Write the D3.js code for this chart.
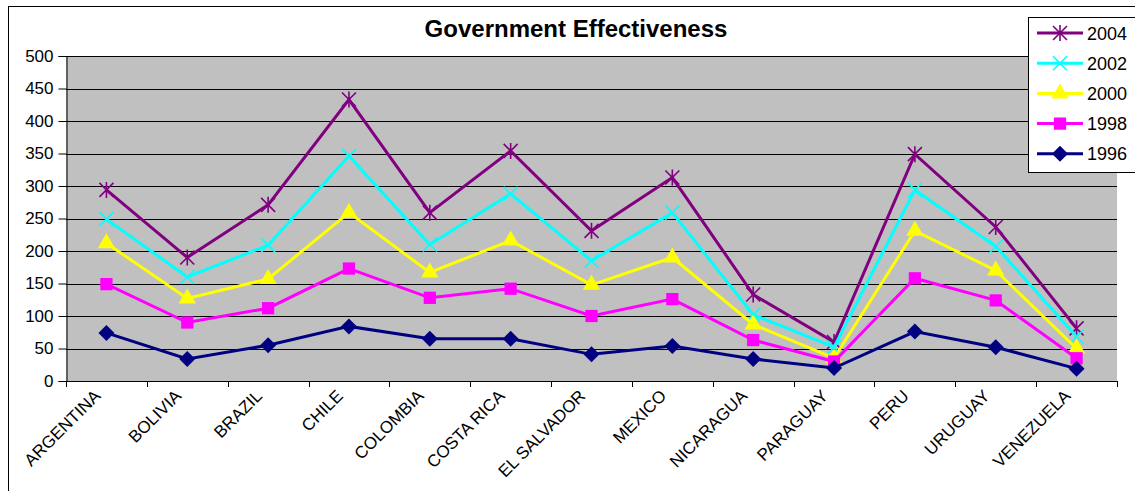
<!DOCTYPE html>
<html>
<head>
<meta charset="utf-8">
<script src="https://cdn.jsdelivr.net/npm/d3@7"></script>
<style>
  html, body { margin: 0; padding: 0; background: #fff; }
  svg { display: block; font-family: "Liberation Sans", Arial, sans-serif; }
</style>
</head>
<body>
<svg id="chart" width="1135" height="491"></svg>
<script>
const categories = ["ARGENTINA", "BOLIVIA", "BRAZIL", "CHILE", "COLOMBIA", "COSTA RICA",
  "EL SALVADOR", "MEXICO", "NICARAGUA", "PARAGUAY", "PERU", "URUGUAY", "VENEZUELA"];
const years = ["2004", "2002", "2000", "1998", "1996"];
const v2004 = [294, 190, 271, 433, 259, 354, 231, 313, 133, 60, 349, 237, 81];
const v2002 = [249, 160, 209, 346, 210, 288, 185, 259, 102, 52, 294, 207, 68];
const v2000 = [212, 127, 157, 259, 167, 216, 148, 190, 87, 35, 231, 170, 50];
const v1998 = [149, 90, 112, 173, 128, 142, 100, 126, 63, 30, 158, 124, 35];
const v1996 = [74, 34, 55, 84, 65, 65, 41, 54, 34, 20, 76, 52, 19];
const yTicks = [0, 50, 100, 150, 200, 250, 300, 350, 400, 450, 500];
const title = "Government Effectiveness";

const seriesValues = [v2004, v2002, v2000, v1998, v1996];
const colors = ["#800080", "#00FFFF", "#FFFF00", "#FF00FF", "#000080"];
const markers = ["star", "x", "triangle", "square", "diamond"];

const svg = d3.select("#chart");
const plot = { left: 66, right: 1117, top: 56, bottom: 381 };

// outer frame
svg.append("rect").attr("x", 8.5).attr("y", 6.5).attr("width", 1140).attr("height", 500)
  .attr("fill", "#fff").attr("stroke", "#000").attr("stroke-width", 1);

const x = d3.scaleBand().domain(categories).range([plot.left, plot.right]);
const y = d3.scaleLinear().domain([0, 500]).range([plot.bottom, plot.top]);

// plot background
svg.append("rect").attr("x", plot.left).attr("y", plot.top)
  .attr("width", plot.right - plot.left).attr("height", plot.bottom - plot.top)
  .attr("fill", "#C0C0C0");

// gridlines
svg.append("g").selectAll("line").data(yTicks.filter(d => d > 0)).join("line")
  .attr("x1", plot.left).attr("x2", plot.right)
  .attr("y1", d => Math.round(y(d)) + 0.5).attr("y2", d => Math.round(y(d)) + 0.5)
  .attr("stroke", "#000").attr("stroke-width", 1);

// y axis
const yAxis = d3.axisLeft(y).tickValues(yTicks).tickSize(8).tickPadding(5);
const gy = svg.append("g").attr("transform", `translate(${plot.left + 0.5},0)`).call(yAxis);
gy.select(".domain").attr("stroke", "#000");
gy.selectAll(".tick line").attr("stroke", "#000");
gy.selectAll(".tick text").attr("font-size", 17).attr("fill", "#000")
  .attr("font-family", "Liberation Sans, Arial, sans-serif");

// x axis: ticks at band boundaries
svg.append("line").attr("x1", plot.left).attr("x2", plot.right)
  .attr("y1", plot.bottom + 0.5).attr("y2", plot.bottom + 0.5).attr("stroke", "#000");
const bounds = categories.map(c => x(c)).concat([plot.right]);
svg.append("g").selectAll("line").data(bounds).join("line")
  .attr("x1", d => Math.round(d) + 0.5).attr("x2", d => Math.round(d) + 0.5)
  .attr("y1", plot.bottom).attr("y2", plot.bottom + 6).attr("stroke", "#000");

// category labels
svg.append("g").selectAll("text").data(categories).join("text")
  .attr("transform", d => `translate(${x(d) + x.bandwidth() / 2 - 5},${plot.bottom + 16}) rotate(-45)`)
  .attr("text-anchor", "end")
  .attr("font-size", 17).attr("fill", "#000")
  .text(d => d);

// marker path generator
function markerPath(type) {
  if (type === "star") {
    const r = 7;
    return `M${-r},${-r}L${r},${r}M${-r},${r}L${r},${-r}M0,${-r - 1}L0,${r + 1}`;
  }
  if (type === "x") {
    const r = 7;
    return `M${-r},${-r}L${r},${r}M${-r},${r}L${r},${-r}`;
  }
  if (type === "triangle") return d3.symbol(d3.symbolTriangle, 130)();
  if (type === "square") return d3.symbol(d3.symbolSquare, 150)();
  if (type === "diamond") { const r = 8; return `M0,${-r}L${r},0L0,${r}L${-r},0Z`; }
}

const line = d3.line()
  .x((d, i) => x(categories[i]) + x.bandwidth() / 2)
  .y(d => y(d));

// series
seriesValues.forEach((vals, si) => {
  const g = svg.append("g");
  g.append("path").datum(vals).attr("d", line)
    .attr("fill", "none").attr("stroke", colors[si]).attr("stroke-width", 3)
    .attr("stroke-linejoin", "miter");
  const isStroke = markers[si] === "star" || markers[si] === "x";
  g.selectAll("path.m").data(vals).join("path").attr("class", "m")
    .attr("transform", (d, i) => `translate(${x(categories[i]) + x.bandwidth() / 2},${y(d)})`)
    .attr("d", markerPath(markers[si]))
    .attr("fill", isStroke ? "none" : colors[si])
    .attr("stroke", isStroke ? colors[si] : "none")
    .attr("stroke-width", isStroke ? 1.6 : 0);
});

// title
svg.append("text").attr("x", 576).attr("y", 37).attr("text-anchor", "middle")
  .attr("font-size", 24).attr("font-weight", "bold").attr("fill", "#000").text(title);

// legend
const lg = svg.append("g");
lg.append("rect").attr("x", 1028.5).attr("y", 17.5).attr("width", 110).attr("height", 155)
  .attr("fill", "#fff").attr("stroke", "#000").attr("stroke-width", 1);
years.forEach((yr, i) => {
  const cy = 33 + i * 30.2;
  lg.append("line").attr("x1", 1037).attr("x2", 1083).attr("y1", cy).attr("y2", cy)
    .attr("stroke", colors[i]).attr("stroke-width", 3);
  const isStroke = markers[i] === "star" || markers[i] === "x";
  lg.append("path").attr("transform", `translate(1060,${cy})`)
    .attr("d", markerPath(markers[i]))
    .attr("fill", isStroke ? "none" : colors[i])
    .attr("stroke", isStroke ? colors[i] : "none")
    .attr("stroke-width", isStroke ? 1.6 : 0);
  lg.append("text").attr("x", 1087).attr("y", cy + 6.5).attr("font-size", 18)
    .attr("fill", "#000").text(yr);
});
</script>
</body>
</html>
